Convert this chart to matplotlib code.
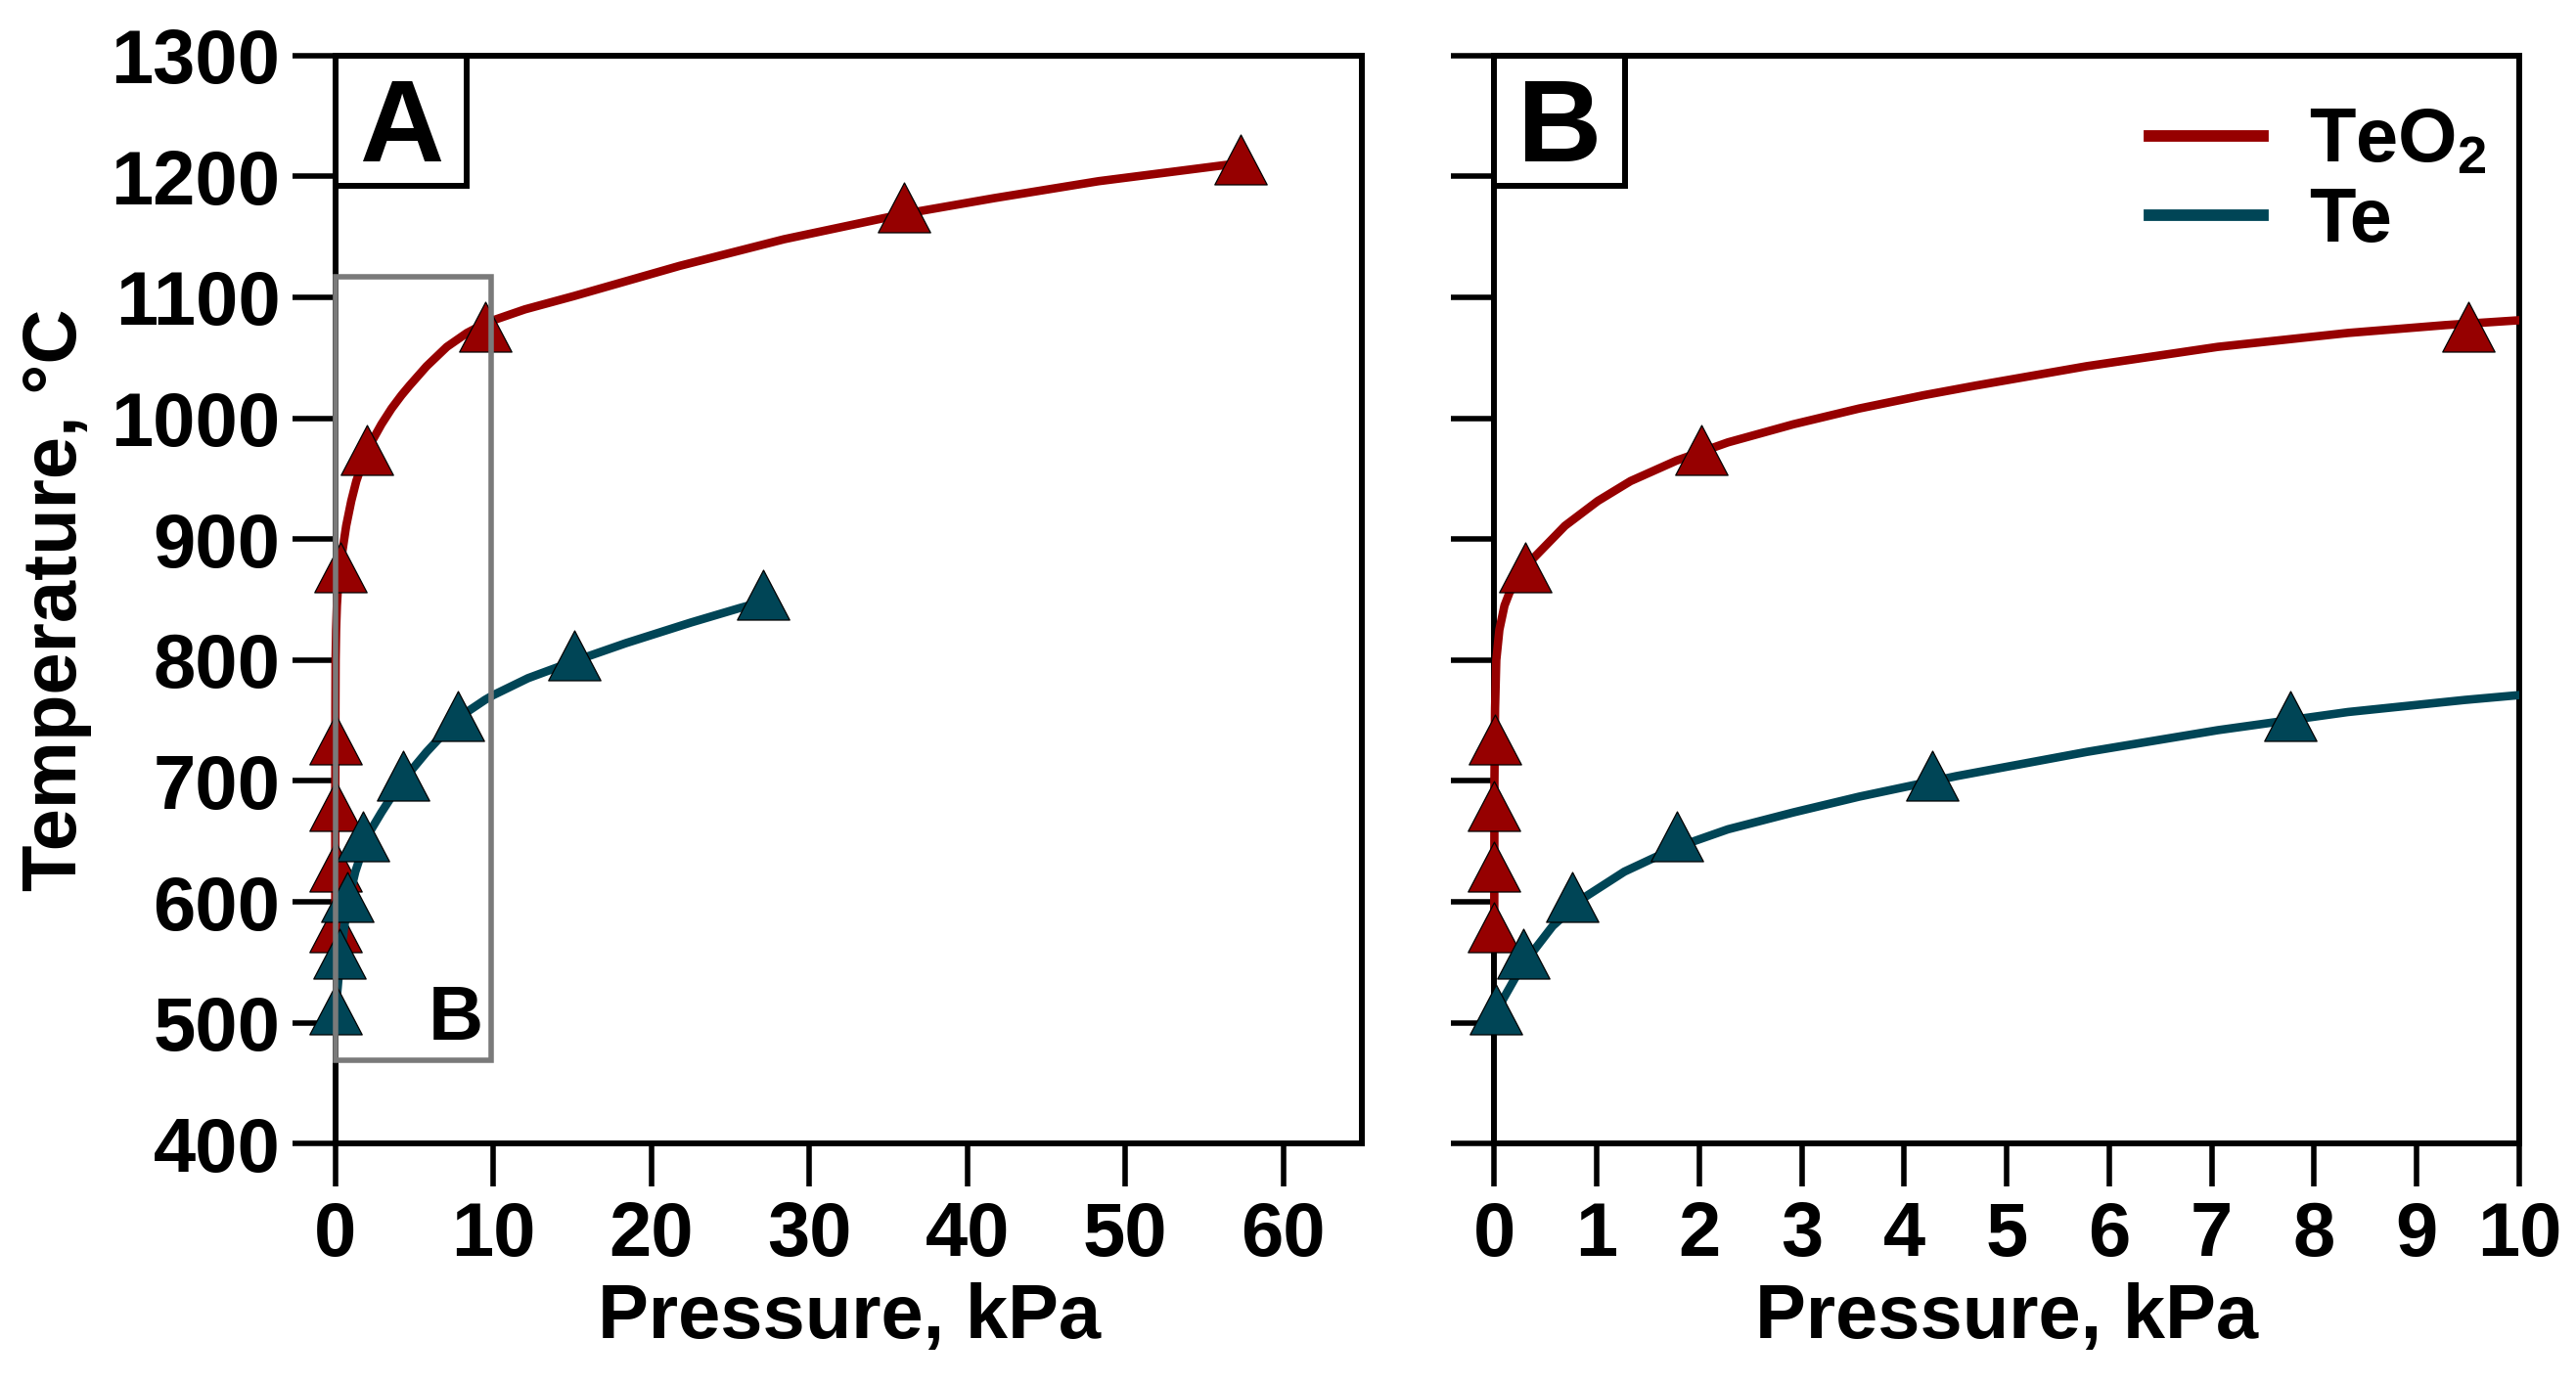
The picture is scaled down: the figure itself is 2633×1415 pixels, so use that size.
"""
Vapour pressure curves of TeO2 and Te: full range (A) and the 0-10 kPa zoom (B).
Writes out.png.
"""

import matplotlib
matplotlib.use("Agg")
import matplotlib.pyplot as plt
from matplotlib.lines import Line2D
from matplotlib.patches import Rectangle
from matplotlib.path import Path

# ---------------------------------------------------------------------------
# Data (pressure in kPa, temperature in °C)
# ---------------------------------------------------------------------------

teo2_p = [0.0, 0.0, 0.0, 0.005, 0.305, 2.02, 9.5, 36.0, 57.3]
teo2_t = [575, 625, 675, 730, 873, 970, 1072, 1170, 1210]

te_p = [0.02, 0.28, 0.76, 1.78, 4.27, 7.77, 15.1, 27.1]
te_t = [507, 553, 600, 650, 700, 750, 800, 850]

# fitted curves
teo2_curve_p = [0.0, 0.002, 0.008, 0.02, 0.05, 0.1, 0.15, 0.3, 0.38, 0.69,
                1.01, 1.33, 1.78, 2.28, 2.92, 3.56, 4.19, 4.7, 5.78, 7.06,
                8.33, 9.28, 10.0, 12.0, 15.1, 21.8, 28.4, 36.0, 41.7, 48.3,
                57.3]
teo2_curve_t = [573, 700, 760, 800, 825, 845, 856, 875, 884, 911,
                931.5, 948, 965, 980, 995, 1008, 1019, 1027, 1043, 1059,
                1070.5, 1077, 1081, 1090, 1101, 1126, 1148, 1169, 1182, 1196,
                1211]

te_curve_p = [0.02, 0.09, 0.21, 0.37, 0.57, 0.885, 1.27, 1.775, 2.28, 2.92,
              3.56, 4.51, 5.78, 7.06, 8.33, 9.47, 10.0, 12.2, 15.1, 18.4,
              22.5, 25.6, 27.1]
te_curve_t = [508, 520, 538, 558, 580, 604, 625, 645, 660, 674,
              687, 704, 724, 742, 757, 767, 771, 785, 799, 814,
              831, 843, 848.5]

series_labels = ["TeO$_2$", "Te"]
series_colors = ["#960000", "#004556"]

xticks_a = [0, 10, 20, 30, 40, 50, 60]
xticks_b = [0, 1, 2, 3, 4, 5, 6, 7, 8, 9, 10]
yticks = [400, 500, 600, 700, 800, 900, 1000, 1100, 1200, 1300]

# ---------------------------------------------------------------------------
# Style
# ---------------------------------------------------------------------------

plt.rcParams["font.family"] = ["Liberation Sans", "DejaVu Sans"]
plt.rcParams["font.weight"] = "bold"
plt.rcParams["mathtext.fontset"] = "custom"
plt.rcParams["mathtext.rm"] = "Liberation Sans:bold"
plt.rcParams["mathtext.bf"] = "Liberation Sans:bold"
plt.rcParams["mathtext.it"] = "Liberation Sans:bold:italic"
plt.rcParams["mathtext.default"] = "rm"

FS = 56
SPINE_LW = 4.3
CURVE_LW = 6.2

# triangle marker whose data point sits a little below the box middle
TRI = Path([(0, 1), (-0.877, -0.672), (0.877, -0.672), (0, 1)], closed=True)
MARKER_KW = dict(marker=TRI, markersize=43.9, markeredgecolor="black",
                 markeredgewidth=0.9, linestyle="none", clip_on=False)


def style_axes(ax, xlim, xticks, show_ylabels):
    ax.set_xlim(*xlim)
    ax.set_ylim(400, 1300)
    ax.set_xticks(xticks)
    ax.set_yticks(yticks)
    for sp in ax.spines.values():
        sp.set_linewidth(SPINE_LW)
    ax.tick_params(axis="both", direction="out", length=31.5, width=4.0,
                   labelsize=FS)
    ax.tick_params(axis="x", pad=10)
    ax.tick_params(axis="y", pad=9)
    if not show_ylabels:
        ax.tick_params(axis="y", labelleft=False)
    ax.set_xlabel("Pressure, kPa", fontsize=FS, fontweight="bold", labelpad=8)


def panel_letter(ax, letter):
    box = Rectangle((0, 1 - 0.1195), 0.128, 0.1195, transform=ax.transAxes,
                    fill=False, edgecolor="black", linewidth=SPINE_LW,
                    clip_on=False, zorder=9)
    ax.add_patch(box)
    ax.text(0.064, 0.9027, letter, transform=ax.transAxes, ha="center",
            va="baseline", fontsize=86, fontweight="bold", zorder=10)


def draw_series(ax):
    curves = [(teo2_curve_p, teo2_curve_t), (te_curve_p, te_curve_t)]
    points = [(teo2_p, teo2_t), (te_p, te_t)]
    z = 3
    for (cp, ct), (mp, mt), col in zip(curves, points, series_colors):
        line, = ax.plot(cp, ct, color=col, linewidth=CURVE_LW, zorder=z,
                        solid_capstyle="butt", solid_joinstyle="round")
        # let the curve sit on top of the left spine, clip only on the right
        clip = Rectangle((-0.05, -0.05), 1.05, 1.1, transform=ax.transAxes)
        line.set_clip_path(clip)
        ax.plot(mp, mt, color=col, zorder=z + 1, **MARKER_KW)
        z += 2


fig = plt.figure(figsize=(26.33, 14.15), dpi=100)
ax_a = fig.add_axes([0.13016, 0.17364, 0.3987, 0.78629])
ax_b = fig.add_axes([0.58006, 0.17364, 0.3979, 0.78629])

# ---- panel A ----
draw_series(ax_a)
style_axes(ax_a, (0, 65), xticks_a, show_ylabels=True)
ax_a.set_ylabel("Temperature, °C", fontsize=FS, fontweight="bold", labelpad=14)
panel_letter(ax_a, "A")
ax_a.add_patch(Rectangle((0, 469), 9.85, 648, fill=False, edgecolor="#7a7a7a",
                         linewidth=4.0, zorder=8, clip_on=False))
ax_a.text(7.64, 485.7, "B", ha="center", va="baseline", fontsize=FS,
          fontweight="bold", zorder=8)

# ---- panel B ----
draw_series(ax_b)
style_axes(ax_b, (0, 10), xticks_b, show_ylabels=False)
panel_letter(ax_b, "B")

handles = [Line2D([], [], color=c, linewidth=8.5) for c in series_colors]
ax_b.legend(handles, series_labels, loc="upper left",
            bbox_to_anchor=(0.639, 0.953), frameon=False, fontsize=FS,
            handlelength=1.5, handletextpad=0.6, labelspacing=0.1,
            borderpad=0, borderaxespad=0,
            prop={"weight": "bold", "size": FS})

fig.savefig("out.png", dpi=100)
